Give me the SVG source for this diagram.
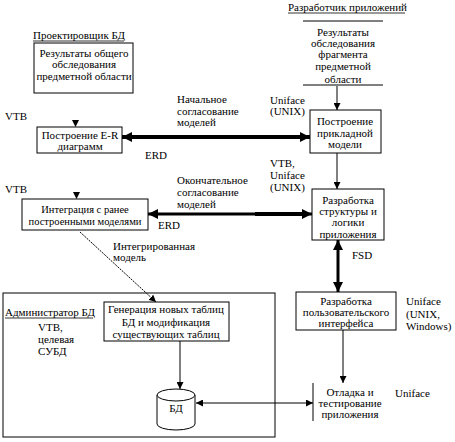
<svg xmlns="http://www.w3.org/2000/svg" width="455" height="442" viewBox="0 0 455 442" font-family="'Liberation Serif', 'Times New Roman', serif" font-size="11">
<defs>
<style>
text{font-family:'Liberation Serif','Times New Roman',serif;font-size:11px;fill:#000}
.c{text-anchor:middle}
.box{fill:#fff;stroke:#000;stroke-width:1}
.ln{stroke:#000;stroke-width:1;fill:none}
.thick{stroke:#000;stroke-width:4;fill:none}
.ul{stroke:#000;stroke-width:0.8}
</style>
<marker id="ah" viewBox="0 0 10 10" refX="10" refY="5" markerWidth="7" markerHeight="7" markerUnits="userSpaceOnUse" orient="auto-start-reverse"><path d="M0,0 L10,5 L0,10 z" fill="#000"/></marker>
<marker id="ahb" viewBox="0 0 10 10" refX="10" refY="5" markerWidth="10" markerHeight="10" markerUnits="userSpaceOnUse" orient="auto-start-reverse"><path d="M0,0 L10,5 L0,10 z" fill="#000"/></marker>
</defs>

<g id="big-area"><rect x="3" y="293" width="272" height="144" style="fill:none;stroke:#000;stroke-width:1"/></g>

<g id="label-designer">
<text x="33" y="39">Проектировщик БД</text>
<line x1="33" y1="41" x2="124" y2="41" class="ul"/>
</g>
<g id="node-survey">
<rect x="34" y="43" width="99" height="50" class="box"/>
<text x="84" y="57" class="c">Результаты общего</text>
<text x="84" y="68" class="c">обследования</text>
<text x="84" y="80" class="c">предметной области</text>
</g>

<g id="label-developer">
<text x="288" y="11">Разработчик приложений</text>
<line x1="288" y1="13" x2="405" y2="13" class="ul"/>
</g>
<g id="node-fragment">
<line x1="303" y1="21" x2="383" y2="21" class="ln"/>
<line x1="303" y1="85" x2="383" y2="85" class="ln"/>
<text x="343" y="36" class="c">Результаты</text>
<text x="343" y="47" class="c">обследования</text>
<text x="343" y="58" class="c">фрагмента</text>
<text x="343" y="70" class="c">предметной</text>
<text x="343" y="83" class="c">области</text>
</g>

<g id="node-er">
<text x="5" y="120">VTB</text>
<rect x="37" y="127" width="85" height="26" class="box"/>
<text x="80" y="139" class="c">Построение E-R</text>
<text x="80" y="150" class="c">диаграмм</text>
</g>

<g id="node-appmodel">
<rect x="310" y="110" width="71" height="43" class="box"/>
<text x="345" y="125" class="c">Построение</text>
<text x="345" y="137" class="c">прикладной</text>
<text x="345" y="148" class="c">модели</text>
</g>

<g id="node-integration">
<text x="5" y="193">VTB</text>
<rect x="22" y="199" width="126" height="31" class="box"/>
<text x="85" y="213" class="c" style="font-size:10.5px">Интеграция с ранее</text>
<text x="85" y="225" class="c" style="font-size:10.5px">построенными моделями</text>
</g>

<g id="node-structure">
<rect x="312" y="189" width="72" height="51" class="box"/>
<text x="348" y="204" class="c">Разработка</text>
<text x="348" y="215" class="c">структуры и</text>
<text x="348" y="226" class="c">логики</text>
<text x="348" y="238" class="c">приложения</text>
</g>

<g id="node-ui">
<rect x="296" y="292" width="100" height="38" class="box"/>
<text x="346" y="305" class="c">Разработка</text>
<text x="346" y="316" class="c">пользовательского</text>
<text x="346" y="327" class="c">интерфейса</text>
</g>

<g id="label-admin">
<text x="5" y="316">Администратор БД</text>
<line x1="5" y1="318" x2="93" y2="318" class="ul"/>
<text x="38" y="331">VTB,</text>
<text x="38" y="343">целевая</text>
<text x="38" y="355">СУБД</text>
</g>

<g id="node-gen">
<rect x="104" y="302" width="125" height="39" class="box"/>
<text x="166" y="313" class="c">Генерация новых таблиц</text>
<text x="166" y="326" class="c">БД и модификация</text>
<text x="166" y="338" class="c">существующих таблиц</text>
</g>

<g id="node-db">
<path d="M157,395 L157,424 A19,6 0 0 0 195,424 L195,395" class="box"/>
<ellipse cx="176" cy="395" rx="19" ry="6" class="box"/>
<text x="176" y="412" class="c">БД</text>
</g>

<g id="node-debug">
<line x1="313" y1="383" x2="313" y2="421" class="ln"/>
<text x="350" y="396" class="c">Отладка и</text>
<text x="350" y="407" class="c">тестирование</text>
<text x="350" y="418" class="c">приложения</text>
</g>

<g id="connectors">
<line x1="337" y1="86" x2="337" y2="110" class="ln" marker-end="url(#ah)"/>
<line x1="122" y1="137" x2="310" y2="137" class="thick" marker-start="url(#ahb)" marker-end="url(#ahb)"/>
<line x1="337" y1="153" x2="337" y2="189" class="ln" marker-end="url(#ah)"/>
<line x1="148" y1="214" x2="312" y2="214" class="thick" style="stroke-width:3" marker-start="url(#ahb)" marker-end="url(#ahb)"/>
<line x1="255" y1="214" x2="302" y2="214" class="thick" style="stroke-width:4"/>
<line x1="80" y1="232" x2="156" y2="302" class="ln" stroke-dasharray="2,1" marker-end="url(#ah)"/>
<line x1="180" y1="341" x2="180" y2="389" class="ln" marker-end="url(#ah)"/>
<line x1="196" y1="403" x2="313" y2="403" class="ln" marker-start="url(#ah)" marker-end="url(#ah)"/>
<line x1="338" y1="240" x2="338" y2="292" class="thick" style="stroke-width:3" marker-start="url(#ahb)" marker-end="url(#ahb)"/>
<line x1="343" y1="330" x2="343" y2="383" class="ln" marker-end="url(#ah)"/>
<path d="M72,120 L79,120 L75.5,127 z" fill="#000"/>
<path d="M73,192 L80,192 L76.5,199 z" fill="#000"/>
</g>

<g id="labels">
<text x="177" y="103">Начальное</text>
<text x="177" y="115">согласование</text>
<text x="177" y="126">моделей</text>
<text x="270" y="104">Uniface</text>
<text x="270" y="115">(UNIX)</text>
<text x="145" y="159">ERD</text>
<text x="270" y="167">VTB,</text>
<text x="270" y="179">Uniface</text>
<text x="270" y="191">(UNIX)</text>
<text x="177" y="184">Окончательное</text>
<text x="177" y="196">согласование</text>
<text x="177" y="208">моделей</text>
<text x="158" y="229">ERD</text>
<text x="113" y="250">Интегрированная</text>
<text x="113" y="261">модель</text>
<text x="352" y="259">FSD</text>
<text x="406" y="305">Uniface</text>
<text x="406" y="318">(UNIX,</text>
<text x="406" y="330">Windows)</text>
<text x="395" y="397">Uniface</text>
</g>
</svg>
